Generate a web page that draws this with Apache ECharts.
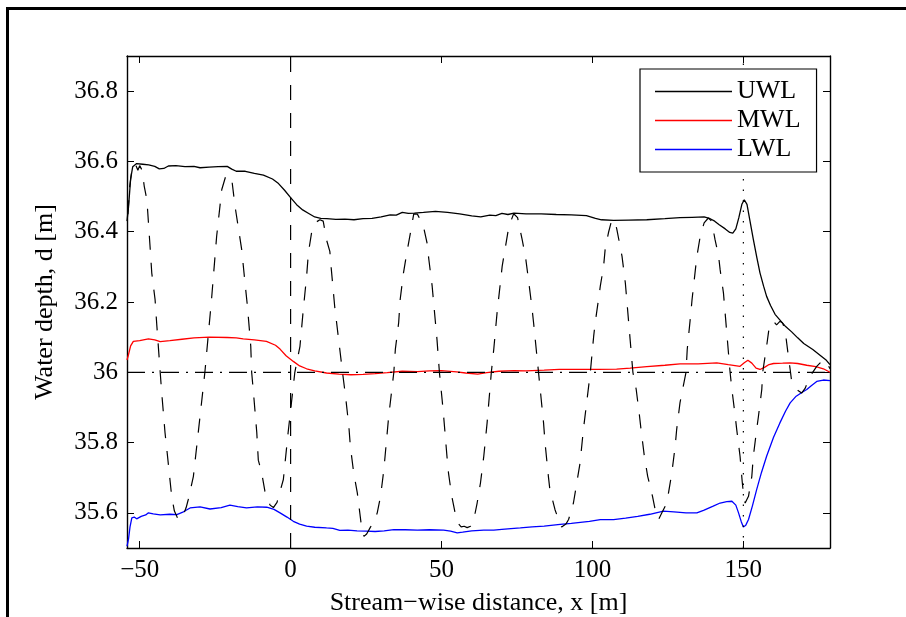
<!DOCTYPE html>
<html>
<head>
<meta charset="utf-8">
<script src="https://cdn.jsdelivr.net/npm/echarts@6/dist/echarts.min.js"></script>
<style>
  html, body { margin: 0; padding: 0; background: #fff; }
  #chart { width: 906px; height: 617px; }
</style>
</head>
<body>
<div id="chart"></div>
<script>
// axis ranges and ticks
const xRange = [-54.2, 178.7];
const yRange = [35.5, 36.9];
const xTicks = [-50, 0, 50, 100, 150];
const yTicks = [35.6, 35.8, 36, 36.2, 36.4, 36.6, 36.8];

// reference lines
const refDepth = 36;
const gateStart = 0;
const gateEnd = 150;

// upper water level [x, d]
const uwl = [
  [-54.2, 36.43], [-53.7, 36.47], [-53.0, 36.55], [-52.3, 36.585], [-51, 36.594], [-49, 36.592],
  [-47, 36.59], [-45, 36.586], [-43.5, 36.579], [-42, 36.58], [-40.5, 36.587], [-38, 36.588],
  [-35, 36.585], [-32, 36.586], [-30, 36.582], [-27, 36.584], [-24, 36.585], [-21, 36.586],
  [-19.5, 36.578], [-18, 36.572], [-15, 36.572], [-12, 36.566], [-9, 36.561], [-6, 36.55],
  [-4, 36.537], [-2, 36.518], [0, 36.497], [2, 36.477], [4, 36.462], [6, 36.452], [8, 36.442],
  [10, 36.438], [12, 36.437], [15, 36.435], [18, 36.436], [21, 36.434], [24, 36.437], [27, 36.438],
  [30, 36.442], [33, 36.448], [35, 36.447], [37, 36.455], [39, 36.452], [41, 36.453], [44, 36.455],
  [48, 36.458], [52, 36.455], [56, 36.451], [60, 36.445], [63, 36.442], [66, 36.447], [68, 36.446],
  [70, 36.452], [72, 36.449], [74, 36.453], [78, 36.451], [83, 36.451], [88, 36.449], [93, 36.448],
  [98, 36.446], [101, 36.438], [103, 36.434], [107, 36.432], [112, 36.433], [118, 36.434],
  [124, 36.437], [129, 36.44], [133, 36.441], [137, 36.442], [139, 36.437], [140.5, 36.43],
  [142, 36.42], [144, 36.408], [145.5, 36.398], [146.5, 36.396], [147.5, 36.408], [148.5, 36.44],
  [149.5, 36.478], [150.3, 36.491], [151.2, 36.478], [152.2, 36.43], [153.3, 36.378], [154.5, 36.325],
  [155.5, 36.283], [156.7, 36.245], [157.7, 36.216], [159, 36.19], [160.5, 36.165], [162, 36.15],
  [164, 36.13], [166, 36.115], [168, 36.098], [170, 36.082], [173, 36.065], [175.5, 36.048],
  [177.5, 36.034], [178.7, 36.022]
];

// mean water level
const mwl = [
  [-54.2, 36.035], [-53.7, 36.05], [-53, 36.075], [-52.1, 36.088], [-50, 36.09], [-47.1, 36.095],
  [-45, 36.092], [-43.2, 36.087], [-40, 36.09], [-36, 36.094], [-32, 36.098], [-27, 36.1],
  [-21, 36.099], [-18, 36.098], [-15.7, 36.095], [-12, 36.092], [-8, 36.088], [-5, 36.077],
  [-3.5, 36.066], [-1.5, 36.047], [0.9, 36.031], [3, 36.018], [5.3, 36.01], [8, 36.004],
  [11.9, 35.998], [16, 35.995], [20, 35.993], [24, 35.994], [28, 35.996], [32, 35.999], [37, 36.003],
  [42, 36.002], [46, 36.004], [50, 36.005], [55, 36.001], [58, 35.998], [62, 35.995], [65, 35.999],
  [69, 36.003], [74, 36.005], [78, 36.004], [84, 36.006], [89, 36.008], [95, 36.008], [102, 36.008],
  [108, 36.009], [112.5, 36.012], [118, 36.016], [124, 36.02], [129, 36.024], [135, 36.024],
  [141.2, 36.027], [145, 36.022], [148.9, 36.017], [150.3, 36.027], [151.5, 36.034], [152.8, 36.026],
  [154.2, 36.012], [155.5, 36.008], [157, 36.014], [158.5, 36.022], [160, 36.025], [163, 36.026],
  [165.5, 36.027], [168, 36.025], [171, 36.02], [174, 36.016], [176.5, 36.01], [178.7, 36.0]
];

// lower water level
const lwl = [
  [-54.2, 35.505], [-53.7, 35.525], [-53.2, 35.56], [-52.6, 35.586], [-51.8, 35.588], [-51, 35.583],
  [-49.5, 35.59], [-48, 35.594], [-47.1, 35.6], [-45.5, 35.597], [-43.2, 35.594], [-40, 35.596],
  [-37.7, 35.595], [-35.5, 35.603], [-33.3, 35.614], [-30, 35.617], [-26.7, 35.611], [-23, 35.615],
  [-20.1, 35.622], [-17.5, 35.618], [-14.6, 35.614], [-11, 35.617], [-7.9, 35.616], [-5.5, 35.61],
  [-3.5, 35.6], [-1.2, 35.588], [0.9, 35.576], [3, 35.568], [5.3, 35.562], [8, 35.559],
  [11.9, 35.557], [14, 35.556], [16.3, 35.55], [19, 35.551], [22, 35.549], [25.1, 35.548],
  [28, 35.547], [31, 35.549], [34.2, 35.552], [38, 35.552], [42, 35.551], [46, 35.552],
  [50.7, 35.551], [53, 35.548], [55.2, 35.543], [57, 35.545], [60, 35.549], [64, 35.551],
  [67.3, 35.551], [70, 35.553], [73, 35.555], [76.1, 35.557], [80, 35.56], [84, 35.562],
  [89.3, 35.567], [93, 35.57], [96, 35.573], [99, 35.576], [102.6, 35.581], [107, 35.581],
  [111, 35.585], [115, 35.59], [119, 35.596], [123.5, 35.605], [127, 35.603], [131, 35.6],
  [134.6, 35.6], [137, 35.608], [140, 35.619], [142.3, 35.628], [144.5, 35.632], [146.2, 35.633],
  [147.5, 35.622], [148.4, 35.6], [149.3, 35.575], [150, 35.56], [150.8, 35.565], [151.7, 35.581],
  [153, 35.62], [154.4, 35.666], [156, 35.715], [157.7, 35.761], [160, 35.815], [162.1, 35.856],
  [164, 35.89], [165.5, 35.913], [167.5, 35.932], [169.5, 35.943], [171, 35.951], [172.5, 35.962],
  [174.3, 35.974], [176.5, 35.978], [178.7, 35.976]
];

// instantaneous surface (dashed)
const surface = [
  [-53.9, 36.45], [-53.3, 36.53], [-52.5, 36.58], [-51.5, 36.594], [-50.6, 36.575], [-50.0, 36.588],
  [-49.2, 36.575], [-48.5, 36.53], [-47.6, 36.49], [-46.5, 36.35], [-46.0, 36.283], [-44.9, 36.207],
  [-44.3, 36.131], [-43.2, 36.0], [-42.7, 35.942], [-41.6, 35.828], [-41.0, 35.78], [-39.4, 35.647],
  [-38.5, 35.605], [-37.7, 35.59], [-37.2, 35.58], [-36.2, 35.582], [-35.5, 35.595], [-34.6, 35.615],
  [-33.9, 35.638], [-32.2, 35.704], [-30.0, 35.875], [-28.4, 36.0], [-26.2, 36.207], [-24.5, 36.387],
  [-22.8, 36.52], [-21.6, 36.555], [-20.6, 36.562], [-19.5, 36.55], [-18.4, 36.472], [-16.2, 36.349],
  [-15.1, 36.254], [-14.3, 36.188], [-13.2, 36.074], [-12.9, 36.0], [-12.3, 35.942], [-11.2, 35.828],
  [-10.7, 35.75], [-9.6, 35.715], [-8.5, 35.661], [-6.8, 35.622], [-5.7, 35.615], [-4.5, 35.63],
  [-2.4, 35.695], [-0.8, 35.83], [1.4, 36.0], [3.1, 36.074], [4.2, 36.178], [5.3, 36.273],
  [5.9, 36.34], [7.0, 36.4], [8.0, 36.425], [9.7, 36.434], [10.8, 36.43], [11.9, 36.377],
  [13.0, 36.344], [13.5, 36.292], [14.6, 36.188], [17.2, 36.0], [18.2, 35.932], [19.3, 35.846],
  [19.8, 35.789], [20.9, 35.714], [22.1, 35.657], [23.5, 35.56], [24.3, 35.533], [25.2, 35.54],
  [26.5, 35.56], [27.6, 35.572], [28.7, 35.6], [29.8, 35.647], [30.9, 35.723], [31.4, 35.771],
  [32.5, 35.875], [34.2, 36.0], [34.7, 36.065], [35.8, 36.141], [36.3, 36.207], [37.4, 36.283],
  [38.5, 36.34], [39.7, 36.397], [40.8, 36.451], [42, 36.45], [43.2, 36.43], [44.1, 36.411],
  [45.2, 36.368], [45.8, 36.321], [46.9, 36.245], [47.4, 36.197], [48.5, 36.093], [49.3, 36.0],
  [50.2, 35.922], [50.7, 35.875], [51.8, 35.761], [52.3, 35.714], [53.4, 35.647], [54.5, 35.6],
  [55.5, 35.57], [56.5, 35.56], [57.5, 35.562], [58.5, 35.558], [59.6, 35.562], [60.7, 35.581],
  [61.8, 35.628], [62.9, 35.685], [64.0, 35.761], [65.1, 35.856], [66.5, 36.0], [67.3, 36.065],
  [68.4, 36.169], [69.0, 36.216], [70.1, 36.302], [71.2, 36.358], [72.3, 36.415], [73.9, 36.451],
  [75.2, 36.44], [76.7, 36.378], [77.8, 36.33], [78.8, 36.264], [79.9, 36.188], [80.5, 36.141],
  [81.6, 36.046], [82.7, 35.951], [83.8, 35.856], [84.3, 35.799], [85.4, 35.704], [85.9, 35.666],
  [87.6, 35.609], [89, 35.575], [89.8, 35.56], [90.4, 35.558], [91.2, 35.568], [92.1, 35.581],
  [93.7, 35.628], [94.8, 35.685], [95.9, 35.742], [97.0, 35.837], [99.3, 36.0], [100.4, 36.102],
  [100.9, 36.141], [102.0, 36.207], [102.6, 36.245], [103.7, 36.302], [104.2, 36.349], [105.3, 36.397],
  [106.4, 36.434], [107.5, 36.43], [108.1, 36.406], [109.8, 36.33], [110.9, 36.254], [113.4, 36.0],
  [114.5, 35.951], [115.6, 35.875], [116.1, 35.837], [117.2, 35.761], [118.3, 35.704], [119.9, 35.647],
  [121.0, 35.6], [121.9, 35.581], [123, 35.6], [124.1, 35.619], [125.2, 35.657], [126.3, 35.714],
  [127.4, 35.789], [127.9, 35.837], [129.0, 35.913], [131.0, 36.0], [131.4, 36.065], [132.5, 36.16],
  [133.0, 36.207], [134.1, 36.292], [134.6, 36.33], [135.7, 36.387], [137, 36.425], [138.4, 36.439],
  [139.5, 36.43], [140.6, 36.378], [141.8, 36.33], [142.3, 36.292], [143.4, 36.226], [145.6, 36.0],
  [146.2, 35.951], [147.3, 35.875], [147.8, 35.837], [148.9, 35.761], [149.6, 35.69], [150.2, 35.64],
  [150.6, 35.628], [151.0, 35.635], [151.7, 35.647], [152.8, 35.704], [153.3, 35.761], [154.4, 35.837],
  [155.0, 35.875], [156.1, 35.951], [156.4, 36.0], [157.2, 36.046], [157.7, 36.074], [158.3, 36.112],
  [158.8, 36.141], [160.2, 36.143], [161, 36.135], [162.1, 36.145], [163, 36.14], [163.8, 36.121],
  [164.9, 36.046], [165.5, 36.008], [166, 35.974], [167.5, 35.952], [169.3, 35.941], [170.5, 35.955],
  [172.1, 35.989], [174.3, 36.017], [175.8, 36.03], [177.0, 36.036], [178.1, 36.02], [178.7, 36.01]
];

const font = 'Liberation Serif, Times New Roman, serif';

function axisBase(extra) {
  return Object.assign({
    type: 'value',
    axisLine: { show: true, onZero: false, lineStyle: { color: '#000', width: 1.4 } },
    axisTick: { show: true, inside: true, length: 7, lineStyle: { color: '#000', width: 1 } },
    splitLine: { show: false },
    axisLabel: { show: false }
  }, extra);
}

const chart = echarts.init(document.getElementById('chart'), null, { renderer: 'canvas' });

chart.setOption({
  animation: false,
  backgroundColor: '#fff',
  grid: { left: 127, top: 56, width: 703, height: 492, outerBoundsMode: 'none' },
  xAxis: [
    axisBase({
      position: 'bottom', min: xRange[0], max: xRange[1],
      axisTick: { show: true, inside: true, length: 7, customValues: xTicks, lineStyle: { color: '#000', width: 1 } },
      axisLabel: {
        show: true, customValues: xTicks, margin: 10, color: '#000', fontSize: 25, fontFamily: font,
        formatter: v => String(v).replace('-', '\u2212')
      },
      name: 'Stream\u2212wise distance, x [m]', nameLocation: 'middle', nameGap: 42,
      nameTextStyle: { color: '#000', fontSize: 26, fontFamily: font }
    }),
    axisBase({
      position: 'top', min: xRange[0], max: xRange[1],
      axisTick: { show: true, inside: true, length: 7, customValues: xTicks, lineStyle: { color: '#000', width: 1 } }
    })
  ],
  yAxis: [
    axisBase({
      position: 'left', min: yRange[0], max: yRange[1],
      axisTick: { show: true, inside: true, length: 7, customValues: yTicks, lineStyle: { color: '#000', width: 1 } },
      axisLabel: { show: true, customValues: yTicks, margin: 9, color: '#000', fontSize: 25, fontFamily: font },
      name: 'Water depth, d [m]', nameLocation: 'middle', nameGap: 69,
      nameTextStyle: { color: '#000', fontSize: 26, fontFamily: font }
    }),
    axisBase({
      position: 'right', min: yRange[0], max: yRange[1],
      axisTick: { show: true, inside: true, length: 7, customValues: yTicks, lineStyle: { color: '#000', width: 1 } }
    })
  ],
  legend: {
    data: ['UWL', 'MWL', 'LWL'],
    orient: 'vertical',
    left: 640, top: 69,
    padding: [8, 16, 8, 15],
    itemGap: 0,
    itemWidth: 77, itemHeight: 1.4,
    icon: 'rect',
    backgroundColor: '#fff',
    borderColor: '#000', borderWidth: 1.2, borderRadius: 0,
    textStyle: { color: '#000', fontSize: 26, fontFamily: font, lineHeight: 29 }
  },
  graphic: [{
    type: 'rect', silent: true,
    shape: { x: 7.5, y: 8.5, width: 1200, height: 1200 },
    style: { fill: 'none', stroke: '#000', lineWidth: 3 }
  }],
  series: [
    { name: 'UWL', type: 'line', data: uwl, symbol: 'none', color: '#000', lineStyle: { color: '#000', width: 1.3 } },
    { name: 'MWL', type: 'line', data: mwl, symbol: 'none', color: '#ff0000', lineStyle: { color: '#ff0000', width: 1.3 } },
    { name: 'LWL', type: 'line', data: lwl, symbol: 'none', color: '#0000ff', lineStyle: { color: '#0000ff', width: 1.3 } },
    { name: 'surface', type: 'line', data: surface, symbol: 'none', lineStyle: { color: '#000', width: 1.2, type: [14, 13] } },
    { name: 'depth ref', type: 'line', data: [[xRange[0], refDepth], [xRange[1], refDepth]], symbol: 'none',
      lineStyle: { color: '#000', width: 1.2, type: [18, 7, 2, 7] } },
    { name: 'x0', type: 'line', data: [[gateStart, yRange[0]], [gateStart, yRange[1]]], symbol: 'none',
      lineStyle: { color: '#000', width: 1.2, type: [15, 13] } },
    { name: 'x150', type: 'line', data: [[gateEnd, yRange[0]], [gateEnd, yRange[1]]], symbol: 'none',
      lineStyle: { color: '#000', width: 1.2, type: [1.5, 9] } }
  ]
});
</script>
</body>
</html>
